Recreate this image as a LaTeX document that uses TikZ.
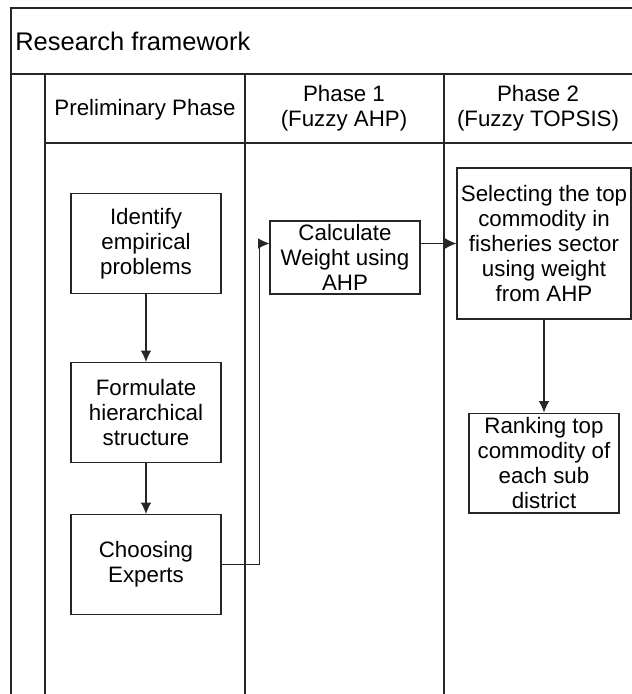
\documentclass[tikz,border=0pt]{standalone}
\usepackage{fontspec}
\setmainfont{Liberation Sans}
\usetikzlibrary{positioning,arrows.meta}

\begin{document}
\begin{tikzpicture}
  [x=0.02cm, y=-0.02cm,
   font=\fontsize{12.7}{14.2}\selectfont,
   frame/.style={draw=black!85, line width=0.8pt},
   task/.style={rectangle, draw=black!85, line width=0.6pt, align=center,
                inner sep=1pt, minimum width=3cm, minimum height=2cm},
   head/.style={align=center},
   flow/.style={-{Latex[length=6.5pt,width=6pt]}, draw=black!85, line width=0.6pt}
  ]
  \useasboundingbox (0,0) rectangle (632,694);

  % frame and lanes
  \draw[frame] (632,8) -- (11,8) -- (11,694);
  \draw[frame] (11,74) -- (632,74);
  \draw[frame] (45,74) -- (45,694);
  \draw[frame] (45,143) -- (632,143);
  \draw[frame] (245,74) -- (245,694);
  \draw[frame] (444,74) -- (444,694);

  \node[anchor=west, inner sep=0pt, font=\fontsize{14.5}{17}\selectfont]
        (title) at (15,41) {Research framework};
  \node[head] (pre) at (145,110) {Preliminary Phase};
  \node[head] (ph1) at (344,108) {Phase 1\\(Fuzzy AHP)};
  \node[head] (ph2) at (538,108) {Phase 2\\(Fuzzy TOPSIS)};

  % preliminary phase
  \node[task]            (ident) at (146,243.5)       {Identify\\empirical\\problems};
  \node[task]            (form)  [below=1.36cm of ident] {Formulate\\hierarchical\\structure};
  \node[task]            (choose)[below=1.02cm of form]  {Choosing\\Experts};

  % phase 1 and 2
  \node[task, minimum height=1.46cm] (calc) at (345,257.5) {Calculate\\Weight using\\AHP};
  \node[task, minimum width=3.48cm, minimum height=3.02cm]
        (sel)  at (544,243.5) {Selecting the top\\commodity in\\fisheries sector\\using weight\\from AHP};
  \node[task]            (rank)  [below=1.86cm of sel]   {Ranking top\\commodity of\\each sub\\district};

  \path (ident) edge[flow] (form)
        (form)  edge[flow] (choose)
        (sel)   edge[flow] (rank)
        (sel.west -| calc.east) edge[flow] (sel.west);
  \draw[flow] (choose.east) -- ++(0.76cm,0) |- (sel.west -| calc.west);
\end{tikzpicture}
\end{document}
